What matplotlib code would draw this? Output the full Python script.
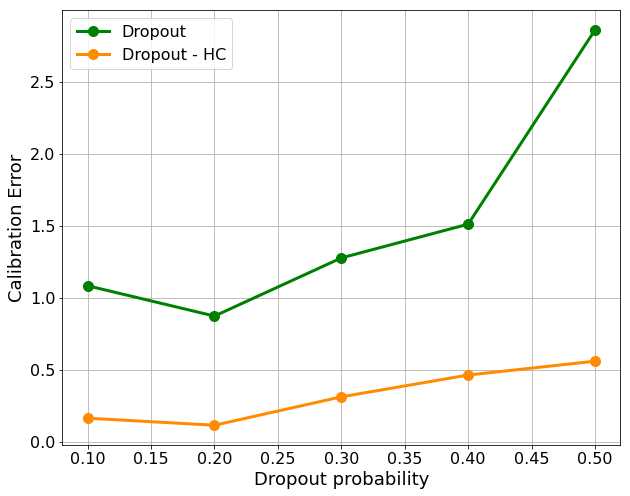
import matplotlib
matplotlib.use("Agg")
import matplotlib.pyplot as plt
import matplotlib.ticker as mticker

dropout_p = [0.1, 0.2, 0.3, 0.4, 0.5]
err_dropout = [1.085, 0.875, 1.278, 1.512, 2.858]
err_dropout_hc = [0.167, 0.118, 0.315, 0.466, 0.562]
x_ticks = [0.10, 0.15, 0.20, 0.25, 0.30, 0.35, 0.40, 0.45, 0.50]

DPI = 72
fig = plt.figure(figsize=(630 / DPI, 496 / DPI), dpi=DPI)
ax = fig.add_axes([62.3/630, 1 - 445/496, (620.3-62.3)/630, (445-10.3)/496])
ax.plot(dropout_p, err_dropout, color="green", marker="o", lw=3, ms=10, label="Dropout")
ax.plot(dropout_p, err_dropout_hc, color="darkorange", marker="o", lw=3, ms=10, label="Dropout - HC")
ax.grid(True, color="#b0b0b0", lw=0.8)
ax.set_axisbelow(True)
ax.set_xticks(x_ticks)
ax.xaxis.set_major_formatter(mticker.FormatStrFormatter("%.2f"))
ax.tick_params(labelsize=16)
ax.set_xlabel("Dropout probability", fontsize=18)
ax.set_ylabel("Calibration Error", fontsize=18)
ax.legend(fontsize=16, loc="upper left")
fig.savefig("out.png", dpi=DPI)
